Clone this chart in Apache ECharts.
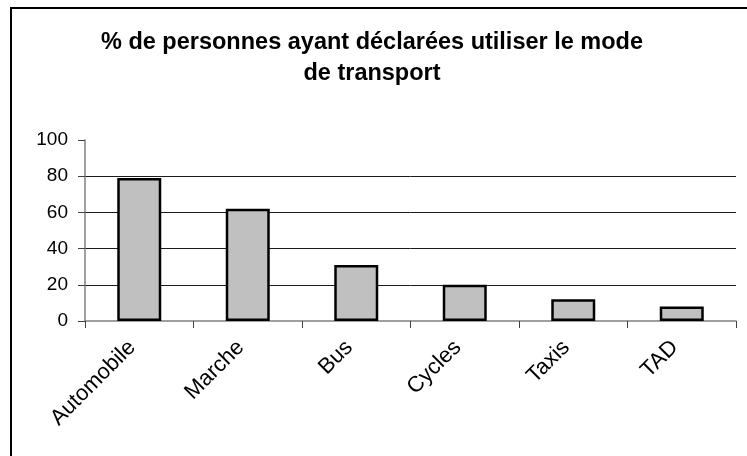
<!DOCTYPE html>
<html>
<head>
<meta charset="utf-8">
<script src="https://cdn.jsdelivr.net/npm/echarts@6/dist/echarts.min.js"></script>
<style>
  html, body { margin: 0; padding: 0; background: #fff; }
  #chart { width: 747px; height: 456px; }
</style>
</head>
<body>
<div id="chart"></div>
<script>
// Transport modes and share of respondents (%)
const categories = ['Automobile', 'Marche', 'Bus', 'Cycles', 'Taxis', 'TAD'];
const shares = [79, 62, 31, 20, 12, 8];
const yTicks = [0, 20, 40, 60, 80, 100];
const titleText = '% de personnes ayant déclarées utiliser le mode\nde transport';

const chart = echarts.init(document.getElementById('chart'), null, { renderer: 'canvas' });

chart.setOption({
  animation: false,
  backgroundColor: '#fff',
  textStyle: { fontFamily: 'Liberation Sans, Arial, sans-serif' },
  title: {
    text: titleText,
    left: 367,
    top: 22,
    textAlign: 'center',
    textStyle: {
      fontFamily: 'Liberation Sans, Arial, sans-serif',
      fontSize: 23.5,
      fontWeight: 'bold',
      color: '#000',
      lineHeight: 31,
      align: 'center'
    }
  },
  graphic: [{
    type: 'rect',
    shape: { x: 11, y: 8, width: 800, height: 500 },
    style: { fill: 'none', stroke: '#000', lineWidth: 2 },
    silent: true
  }],
  grid: { left: 85, right: 11, top: 140, bottom: 135, containLabel: false },
  xAxis: {
    type: 'category',
    data: categories,
    boundaryGap: true,
    axisLine: { lineStyle: { color: '#808080', width: 1.5 } },
    axisTick: { show: true, length: 7, lineStyle: { color: '#404040' } },
    axisLabel: {
      rotate: 45,
      fontSize: 22,
      color: '#000',
      margin: 16,
      padding: [0, 10, 0, 0],
      interval: 0
    }
  },
  yAxis: {
    type: 'value',
    min: yTicks[0],
    max: yTicks[yTicks.length - 1],
    interval: 20,
    axisLine: { show: true, lineStyle: { color: '#808080', width: 1.5 } },
    axisTick: { show: true, length: 7, lineStyle: { color: '#404040' } },
    axisLabel: { fontSize: 19, color: '#000', margin: 17 },
    splitLine: {
      show: true,
      showMinLine: false,
      showMaxLine: false,
      lineStyle: { color: '#1a1a1a', width: 1 }
    }
  },
  series: [{
    type: 'bar',
    data: shares,
    barWidth: 44,
    itemStyle: { color: '#c0c0c0', borderColor: '#000', borderWidth: 2.5 }
  }]
});
</script>
</body>
</html>
